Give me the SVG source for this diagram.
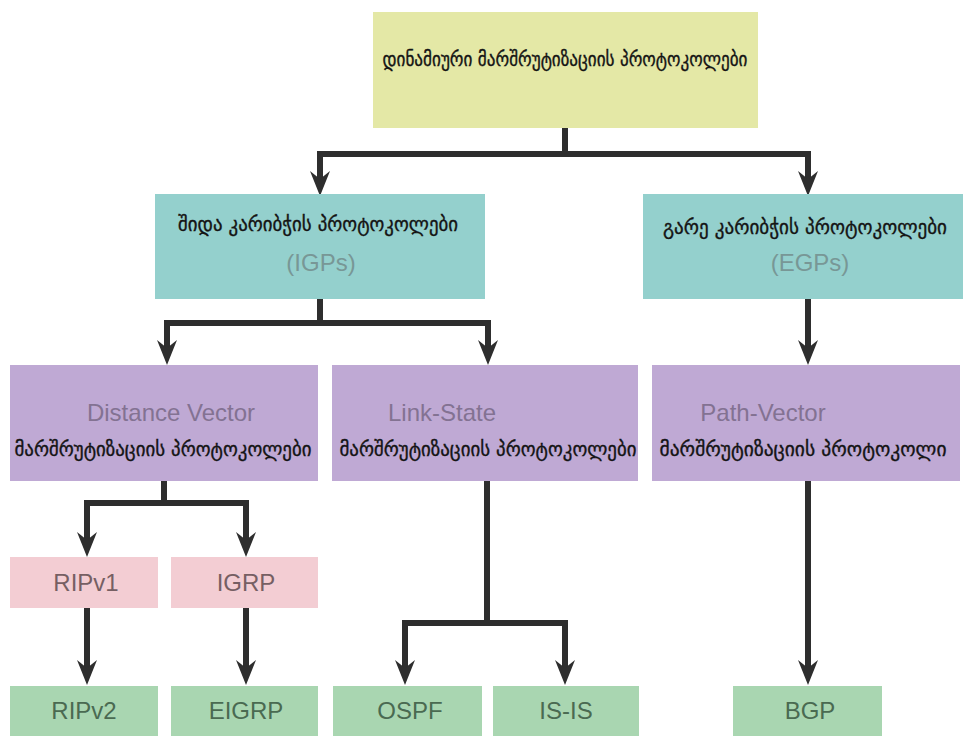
<svg xmlns="http://www.w3.org/2000/svg" width="966" height="736" viewBox="0 0 966 736">
  <style>
    .yel { fill: #e4e8a6; }
    .teal { fill: #94d0cd; }
    .purp { fill: #bfa9d4; }
    .pink { fill: #f3cdd3; }
    .grn { fill: #a9d6b1; }
    .ka { font-family: "DejaVu Sans", "Noto Sans", sans-serif; font-size: 19px; fill: #141414; text-anchor: middle; stroke: #141414; stroke-width: 0.35; }
    .en { font-family: "Liberation Sans", Arial, sans-serif; font-size: 24px; text-anchor: middle; }
    .en-teal { fill: #789796; }
    .en-purp { fill: #837292; }
    .en-pink { fill: #765f63; }
    .en-grn { fill: #4a6a51; }
    .link { fill: none; stroke: #2e2e2e; stroke-width: 6; stroke-linejoin: miter; stroke-linecap: butt; marker-end: url(#head); }
    .stem { fill: none; stroke: #2e2e2e; stroke-width: 6; stroke-linecap: butt; }
  </style>
  <defs>
    <marker id="head" markerUnits="userSpaceOnUse" markerWidth="28" markerHeight="24" viewBox="0 -12 28 24" refX="8" refY="0" orient="auto">
      <path d="M25,0 L0,-10 L8,0 L0,10 Z" fill="#2e2e2e"/>
    </marker>
  </defs>

  <rect width="966" height="736" fill="#ffffff"/>

  <!-- connectors -->
  <g id="connectors">
    <path class="stem" d="M565,128 V154"/>
    <path class="link" d="M568,154 H320 V179"/>
    <path class="link" d="M562,154 H808 V179"/>

    <path class="stem" d="M320,299 V323"/>
    <path class="link" d="M323,323 H167 V348"/>
    <path class="link" d="M317,323 H488 V348"/>
    <path class="link" d="M808,299 V348"/>

    <path class="stem" d="M164,481 V503"/>
    <path class="link" d="M167,503 H87 V540"/>
    <path class="link" d="M161,503 H246 V540"/>

    <path class="link" d="M87,608 V668"/>
    <path class="link" d="M246,608 V668"/>

    <path class="stem" d="M487,481 V623"/>
    <path class="link" d="M490,623 H405 V668"/>
    <path class="link" d="M484,623 H565 V668"/>

    <path class="link" d="M808,481 V668"/>
  </g>

  <g id="dynamic">
    <rect class="yel" x="373" y="12" width="385" height="116"/>
    <text class="ka" x="565" y="66" textLength="365" lengthAdjust="spacingAndGlyphs">დინამიური მარშრუტიზაციის პროტოკოლები</text>
  </g>

  <g id="igp">
    <rect class="teal" x="155" y="194" width="330" height="105"/>
    <text class="ka" x="318" y="231" textLength="280" lengthAdjust="spacingAndGlyphs">შიდა კარიბჭის პროტოკოლები</text>
    <text class="en en-teal" x="321" y="271">(IGPs)</text>
  </g>

  <g id="egp">
    <rect class="teal" x="643" y="194" width="320" height="105"/>
    <text class="ka" x="805" y="234" textLength="284" lengthAdjust="spacingAndGlyphs">გარე კარიბჭის პროტოკოლები</text>
    <text class="en en-teal" x="810" y="271">(EGPs)</text>
  </g>

  <g id="distance-vector">
    <rect class="purp" x="10" y="365" width="308" height="116"/>
    <text class="en en-purp" x="171" y="421">Distance Vector</text>
    <text class="ka" x="163" y="456" textLength="297" lengthAdjust="spacingAndGlyphs">მარშრუტიზაციის პროტოკოლები</text>
  </g>

  <g id="link-state">
    <rect class="purp" x="332" y="365" width="306" height="116"/>
    <text class="en en-purp" x="442" y="421">Link-State</text>
    <text class="ka" x="488" y="456" textLength="297" lengthAdjust="spacingAndGlyphs">მარშრუტიზაციის პროტოკოლები</text>
  </g>

  <g id="path-vector">
    <rect class="purp" x="652" y="365" width="308" height="116"/>
    <text class="en en-purp" x="763" y="421">Path-Vector</text>
    <text class="ka" x="803" y="456" textLength="287" lengthAdjust="spacingAndGlyphs">მარშრუტიზაციის პროტოკოლი</text>
  </g>

  <g id="ripv1">
    <rect class="pink" x="10" y="557" width="148" height="51"/>
    <text class="en en-pink" x="86" y="591">RIPv1</text>
  </g>

  <g id="igrp">
    <rect class="pink" x="171" y="557" width="147" height="51"/>
    <text class="en en-pink" x="246" y="591">IGRP</text>
  </g>

  <g id="ripv2">
    <rect class="grn" x="10" y="686" width="148" height="52"/>
    <text class="en en-grn" x="84" y="719">RIPv2</text>
  </g>

  <g id="eigrp">
    <rect class="grn" x="171" y="686" width="147" height="52"/>
    <text class="en en-grn" x="246" y="719">EIGRP</text>
  </g>

  <g id="ospf">
    <rect class="grn" x="333" y="686" width="149" height="52"/>
    <text class="en en-grn" x="410" y="719">OSPF</text>
  </g>

  <g id="is-is">
    <rect class="grn" x="493" y="686" width="146" height="52"/>
    <text class="en en-grn" x="566" y="719">IS-IS</text>
  </g>

  <g id="bgp">
    <rect class="grn" x="733" y="686" width="149" height="52"/>
    <text class="en en-grn" x="810" y="719">BGP</text>
  </g>
</svg>
